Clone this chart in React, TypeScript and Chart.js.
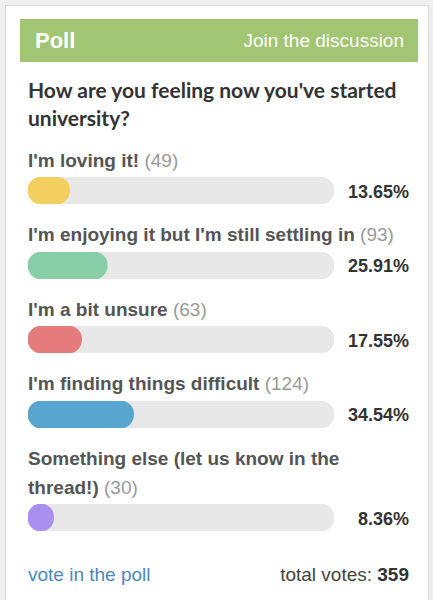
import React, { useEffect, useRef } from "react";
import { Chart, registerables } from "chart.js";

Chart.register(...registerables);

const POLL_TITLE = "Poll";
const HEADER_LINK = "Join the discussion";
const QUESTION = "How are you feeling now you've started university?";
const OPTION_LABELS = [
  "I'm loving it!",
  "I'm enjoying it but I'm still settling in",
  "I'm a bit unsure",
  "I'm finding things difficult",
  "Something else (let us know in the thread!)",
];
const VOTES = [49, 93, 63, 124, 30];
const PERCENTS = [13.65, 25.91, 17.55, 34.54, 8.36];
const BAR_COLORS = ["#f3cf5f", "#88cfa7", "#e37c7b", "#58a6cf", "#a88ff0"];
const TRACK_VALUE = 100;
const TOTAL_VOTES = 359;
const FOOTER_LINK = "vote in the poll";

const TRACK_COLOR = "#e8e8e8";
const LABEL_FONT = '"Liberation Sans", Arial, Helvetica, sans-serif';

function PollBar({ value, color }: { value: number; color: string }) {
  const ref = useRef<HTMLCanvasElement | null>(null);
  useEffect(() => {
    if (!ref.current) return;
    const chart = new Chart(ref.current, {
      type: "bar",
      data: {
        labels: [""],
        datasets: [
          {
            data: [value],
            backgroundColor: color,
            borderWidth: 0,
            borderRadius: 100,
            borderSkipped: false,
            barPercentage: 1,
            categoryPercentage: 1,
            grouped: false,
            order: 0,
          } as any,
          {
            data: [TRACK_VALUE],
            backgroundColor: TRACK_COLOR,
            borderWidth: 0,
            borderRadius: 100,
            borderSkipped: false,
            barPercentage: 1,
            categoryPercentage: 1,
            grouped: false,
            order: 1,
          } as any,
        ],
      },
      options: {
        indexAxis: "y",
        animation: false,
        responsive: true,
        maintainAspectRatio: false,
        events: [],
        layout: { padding: 0 },
        plugins: { legend: { display: false }, tooltip: { enabled: false } },
        scales: {
          x: { display: false, min: 0, max: TRACK_VALUE },
          y: { display: false },
        },
      },
    });
    return () => chart.destroy();
  }, [value, color]);
  return (
    <div style={{ position: "relative", width: 306, height: 27 }}>
      <canvas ref={ref} />
    </div>
  );
}

export default function App() {
  useEffect(() => {
    document.body.style.margin = "0";
  }, []);
  return (
    <div
      style={{
        position: "relative",
        width: 433,
        height: 600,
        background: "#efefef",
        overflow: "hidden",
        fontFamily: LABEL_FONT,
      }}
    >
      <div
        style={{
          position: "absolute",
          left: 5,
          top: 5,
          width: 422,
          height: 600,
          background: "#fff",
          border: "1px solid #d9d9d9",
        }}
      />
      <div
        style={{
          position: "absolute",
          left: 20,
          top: 19,
          width: 398,
          height: 43,
          background: "#a1c573",
          color: "#fff",
          display: "flex",
          alignItems: "center",
          justifyContent: "space-between",
          boxSizing: "border-box",
          padding: "0 14px 0 15px",
        }}
      >
        <span style={{ fontWeight: 700, fontSize: 22 }}>{POLL_TITLE}</span>
        <span style={{ fontSize: 19 }}>{HEADER_LINK}</span>
      </div>
      <div
        style={{
          position: "absolute",
          left: 28,
          top: 76,
          width: 381,
          fontFamily: "Lato, sans-serif",
          fontWeight: 700,
          fontSize: 21,
          lineHeight: "28px",
          color: "#333",
        }}
      >
        {QUESTION}
      </div>
      <div style={{ position: "absolute", left: 28, top: 145.5, width: 381 }}>
        {OPTION_LABELS.map((label, i) => (
          <div key={i} style={{ marginBottom: 16 }}>
            <div
              style={{
                fontSize: 19,
                lineHeight: "29px",
                fontWeight: 700,
                color: "#555",
              }}
            >
              {label} <span style={{ fontWeight: 400, color: "#999" }}>({VOTES[i]})</span>
            </div>
            <div
              style={{
                marginTop: 2.5,
                display: "flex",
                alignItems: "center",
                justifyContent: "space-between",
              }}
            >
              <PollBar value={PERCENTS[i]} color={BAR_COLORS[i]} />
              <span
                style={{
                  fontSize: 18,
                  fontWeight: 700,
                  color: "#333",
                  paddingTop: 3,
                }}
              >
                {PERCENTS[i].toFixed(2)}%
              </span>
            </div>
          </div>
        ))}
      </div>
      <div
        style={{
          position: "absolute",
          left: 28,
          top: 562,
          width: 381,
          display: "flex",
          justifyContent: "space-between",
          fontSize: 19,
          lineHeight: "26px",
        }}
      >
        <span style={{ color: "#4a87c1" }}>{FOOTER_LINK}</span>
        <span style={{ color: "#444" }}>
          total votes: <b style={{ color: "#333" }}>{TOTAL_VOTES}</b>
        </span>
      </div>
    </div>
  );
}
